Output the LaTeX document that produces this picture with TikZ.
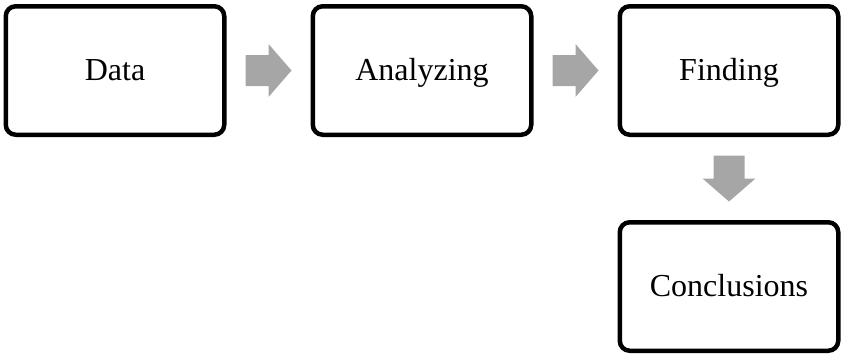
\documentclass[tikz,border=0pt]{standalone}
\usepackage{fontspec}
\setmainfont{Liberation Serif}
\usetikzlibrary{positioning,calc}
\definecolor{arrowgray}{RGB}{166,166,166}
\tikzset{
  stagebox/.style={draw, line width=4.5pt, rounded corners=10pt, minimum width=218.5pt, minimum height=128.5pt, text height=24pt, text depth=5pt, font=\fontsize{32}{36}\selectfont},
  blockarrow/.pic={\fill[arrowgray] (-23,-15.5) -- (0,-15.5) -- (0,-26.5) -- (23,0) -- (0,26.5) -- (0,15.5) -- (-23,15.5) -- cycle;}
}
\begin{document}
\begin{tikzpicture}[x=1pt, y=1pt, node distance=84pt]
\useasboundingbox (0,0) rectangle (841,360);
\node[stagebox] (data) at (115,289.5) {Data};
\node[stagebox, right=of data] (analyzing) {Analyzing};
\node[stagebox, right=of analyzing] (finding) {Finding};
\node[stagebox, below=83pt of finding] (conclusions) {Conclusions};
\pic at ($(data.east)!0.5!(analyzing.west)$) {blockarrow};
\pic at ($(analyzing.east)!0.5!(finding.west)$) {blockarrow};
\pic[rotate=-90] at ($(finding.south)!0.5!(conclusions.north)$) {blockarrow};
\end{tikzpicture}
\end{document}
